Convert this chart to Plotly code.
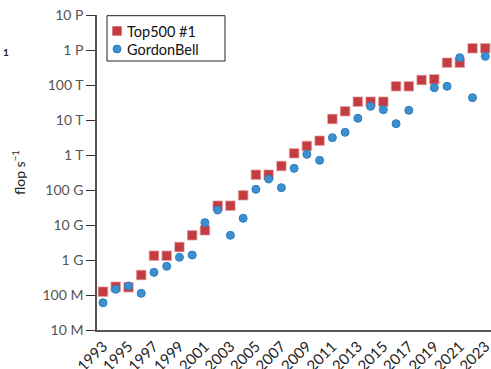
import plotly.graph_objects as go

years_top = list(range(1993, 2024))
top500_log = [8.095, 8.238, 8.22, 8.571, 9.123, 9.123, 9.371, 9.705, 9.848, 10.552,
              10.552, 10.848, 11.438, 11.438, 11.686, 12.048, 12.257, 12.41, 13.029, 13.248,
              13.524, 13.524, 13.524, 13.962, 13.962, 14.143, 14.162, 14.638, 14.638, 15.048, 15.048]
years_gb = [y for y in range(1993, 2024) if y != 2018]
gb_log = [7.78, 8.162, 8.257, 8.048, 8.648, 8.819, 9.077, 9.143, 10.067, 10.429,
          9.705, 10.19, 11.019, 11.314, 11.067, 11.619, 12.019, 11.848, 12.495, 12.648,
          13.048, 13.39, 13.295, 12.895, 13.276, 13.924, 13.962, 14.781, 13.638, 14.819]

top500 = [10 ** v for v in top500_log]
gb = [10 ** v for v in gb_log]

ytick_vals = [1e7, 1e8, 1e9, 1e10, 1e11, 1e12, 1e13, 1e14, 1e15, 1e16]
ytick_text = ["10 M", "100 M", "1 G", "10 G", "100 G", "1 T", "10 T", "100 T", "1 P", "10 P"]
xtick_vals = list(range(1993, 2024, 2))

RED = "#c43b40"
RED_EDGE = "rgba(205,90,95,0.45)"
BLUE = "#3d90d0"
BLUE_EDGE = "#2c7dbd"

fig = go.Figure()
fig.add_trace(go.Scatter(
    x=years_top, y=top500, mode="markers", name="Top500 #1", showlegend=False,
    marker=dict(symbol="square", size=9, color=RED, line=dict(color=RED_EDGE, width=1.5))))
fig.add_trace(go.Scatter(
    x=years_gb, y=gb, mode="markers", name="GordonBell", showlegend=False,
    marker=dict(symbol="circle", size=8, color=BLUE, line=dict(color=BLUE_EDGE, width=1))))

W, H = 491, 369
ML, MR, MT, MB = 97, 0, 15, 39
PW, PH = W - ML - MR, H - MT - MB


def px(x):
    return (x - ML) / PW


def py(y):
    return 1 - (y - MT) / PH


fig.update_layout(
    width=W, height=H,
    margin=dict(l=ML, r=MR, t=MT, b=MB),
    paper_bgcolor="white", plot_bgcolor="white",
    font=dict(family="Lato, Open Sans, sans-serif", color="#333"),
    xaxis=dict(range=[1992.53, 2023.45], tickvals=xtick_vals,
               tickangle=-45, tickfont=dict(size=15, color="#222"),
               ticklabeloverflow="allow",
               showgrid=False, zeroline=False, showline=True, automargin=False,
               linecolor="#555", linewidth=1.5, ticks=""),
    yaxis=dict(type="log", range=[7, 16], tickvals=ytick_vals, ticktext=ytick_text,
               tickfont=dict(size=14, color="#555"), automargin=False,
               showgrid=False, zeroline=False, showline=True,
               linecolor="#555", linewidth=1.5, ticks="outside", ticklen=9,
               tickcolor="#333", tickwidth=1.2,
               title=dict(text="flop s<sup>\u22121</sup>", font=dict(size=14, color="#222"),
                          standoff=14)),
)

# legend drawn as a box with swatches and text
fig.add_shape(type="rect", xref="paper", yref="paper",
              x0=px(107), x1=px(225), y0=py(61), y1=py(15.7),
              line=dict(color="#222", width=1), fillcolor="white", layer="above")
fig.add_shape(type="rect", xref="paper", yref="paper", xsizemode="pixel", ysizemode="pixel",
              xanchor=px(117), yanchor=py(31), x0=-4.5, x1=4.5, y0=-4.5, y1=4.5,
              line=dict(color=RED_EDGE, width=1), fillcolor=RED, layer="above")
fig.add_shape(type="circle", xref="paper", yref="paper", xsizemode="pixel", ysizemode="pixel",
              xanchor=px(117), yanchor=py(49), x0=-4, x1=4, y0=-4, y1=4,
              line=dict(color=BLUE_EDGE, width=1), fillcolor=BLUE, layer="above")
fig.add_annotation(text="Top500 #1", xref="paper", yref="paper", x=px(125), y=py(31),
                   xanchor="left", yanchor="middle", showarrow=False,
                   font=dict(size=14.5, color="#111"))
fig.add_annotation(text="GordonBell", xref="paper", yref="paper", x=px(125), y=py(49),
                   xanchor="left", yanchor="middle", showarrow=False,
                   font=dict(size=14.5, color="#111"))

fig.add_annotation(text="<b>1</b>", xref="paper", yref="paper", x=-96 / PW, y=py(52),
                   xanchor="left", yanchor="middle", showarrow=False,
                   font=dict(size=10, color="#222"))

fig.write_html("out.html", config={"displayModeBar": False},
               post_script="document.body.style.margin='0';document.body.style.overflow='hidden';")
